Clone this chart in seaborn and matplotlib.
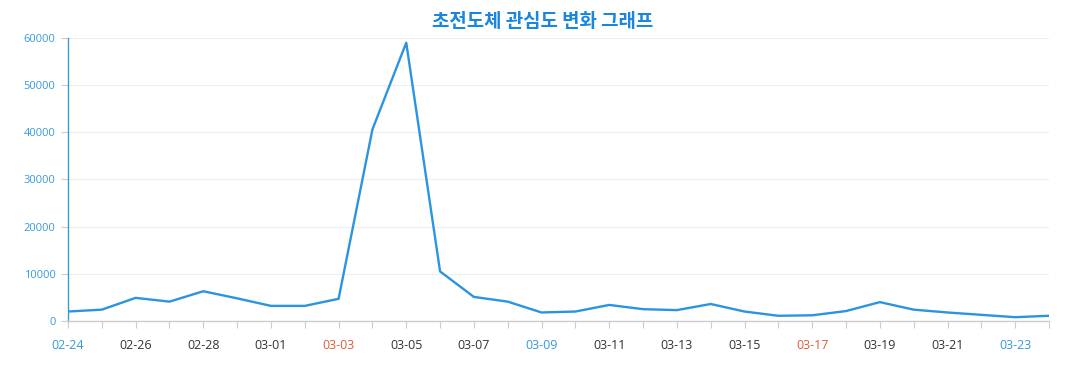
import matplotlib
matplotlib.use("Agg")
import matplotlib.pyplot as plt
import seaborn as sns
import pandas as pd

dates = ["02-24", "02-25", "02-26", "02-27", "02-28", "02-29",
         "03-01", "03-02", "03-03", "03-04", "03-05", "03-06", "03-07", "03-08",
         "03-09", "03-10", "03-11", "03-12", "03-13", "03-14", "03-15", "03-16",
         "03-17", "03-18", "03-19", "03-20", "03-21", "03-22", "03-23", "03-24"]
interest = [2000, 2400, 4900, 4100, 6300, 4800,
            3200, 3200, 4700, 40600, 59000, 10500, 5100, 4100,
            1800, 2000, 3400, 2500, 2300, 3600, 2000, 1100,
            1200, 2100, 4000, 2400, 1800, 1300, 800, 1100]
year = 2024
title = "초전도체 관심도 변화 그래프"
y_ticks = [0, 10000, 20000, 30000, 40000, 50000, 60000]

sns.set_theme(style="white")
plt.rcParams['font.family'] = ['Noto Sans CJK KR', 'DejaVu Sans']
tick_family = ['Open Sans', 'Noto Sans CJK KR', 'DejaVu Sans']

df = pd.DataFrame({"date": dates, "value": interest})

fig = plt.figure(figsize=(10.77, 3.9), dpi=100)
ax = fig.add_axes([0.0631, 0.177, 0.9109, 0.7256])

sns.lineplot(data=df, x="date", y="value", ax=ax, color="#2b94e0",
             linewidth=1.7, sort=False)

ax.set_xlim(0, len(dates) - 1)
ax.set_ylim(0, 60000)
ax.set_yticks(y_ticks)
ax.set_yticklabels([str(v) for v in y_ticks], family=tick_family)
ax.set_xlabel("")
ax.set_ylabel("")

ax.set_xticks(range(len(dates)))
labels = [d if i % 2 == 0 else "" for i, d in enumerate(dates)]
ax.set_xticklabels(labels, family=tick_family)
for i, lab in enumerate(ax.get_xticklabels()):
    wd = pd.Timestamp(f"{year}-{dates[i]}").weekday()
    if wd == 5:
        lab.set_color("#3399dd")
    elif wd == 6:
        lab.set_color("#e05a3a")
    else:
        lab.set_color("#333333")

ax.tick_params(axis="x", bottom=True, length=5, width=0.8, color="#cccccc",
               labelsize=9, pad=8, direction="out")
ax.tick_params(axis="y", left=True, length=5, width=0.8, color="#cccccc",
               labelsize=8, labelcolor="#3a9ad9", pad=4, direction="out")

ax.yaxis.grid(True, color="#eeeeee", linewidth=0.8)
ax.xaxis.grid(False)
for s in ["top", "right"]:
    ax.spines[s].set_visible(False)
ax.spines["left"].set_color("#3a9ad9")
ax.spines["left"].set_linewidth(1.0)
ax.spines["bottom"].set_color("#cccccc")
ax.spines["bottom"].set_linewidth(1.0)

fig.text(0.5037, 0.945, title, ha="center", va="center", fontsize=13.6,
         fontweight="bold", color="#1a86e0")

fig.savefig("out.png", dpi=100)
